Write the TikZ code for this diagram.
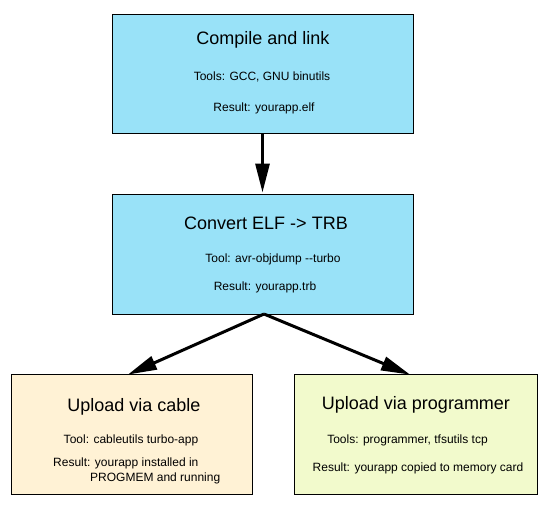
\documentclass[tikz,border=0pt]{standalone}
\usepackage{fontspec}
\setmainfont{Liberation Sans}
\usetikzlibrary{arrows.meta}
\definecolor{boxblue}{RGB}{153,226,248}
\definecolor{boxcream}{RGB}{255,242,213}
\definecolor{boxlime}{RGB}{242,250,204}
\tikzset{
  stepbox/.style={draw=black, line width=1pt, rectangle, inner sep=0pt},
  titletext/.style={font=\fontsize{18}{20}\selectfont, inner sep=0pt},
  smalltext/.style={font=\fontsize{12}{14}\selectfont, inner sep=0pt},
  flow/.style={line width=3pt, -{Triangle[length=29pt,width=14pt]}, shorten >=1pt}
}
\begin{document}
\begin{tikzpicture}[x=1pt,y=-1pt]
\useasboundingbox[fill=white] (0,0) rectangle (544,504);
\node[stepbox, fill=boxblue, minimum width=301pt, minimum height=119pt] (b1) at (262.5,73.5) {};
\node[stepbox, fill=boxblue, minimum width=301pt, minimum height=120pt] (b2) at (262.5,254) {};
\node[stepbox, fill=boxcream, minimum width=241pt, minimum height=120pt] (b3) at (131.5,434) {};
\node[stepbox, fill=boxlime, minimum width=243pt, minimum height=120pt] (b4) at (415.5,434) {};

\node[titletext] (t1) at (263,40) {Compile and link};
\node[smalltext] (t1a) at (262,77) {Tools: GCC, GNU binutils};
\node[smalltext] (t1b) at (264,108) {Result: yourapp.elf};

\node[titletext] (t2) at (266,223) {Convert ELF -> TRB};
\node[smalltext] (t2a) at (273,259) {Tool: avr-objdump -{}-turbo};
\node[smalltext] (t2b) at (265,287) {Result: yourapp.trb};

\node[titletext] (t3) at (134,407) {Upload via cable};
\node[smalltext] (t3a) at (131,440) {Tool: cableutils turbo-app};
\node[smalltext, anchor=west] (t3b) at (53,463) {Result: yourapp installed in};
\node[smalltext, anchor=west] (t3c) at (90,478) {PROGMEM and running};

\node[titletext] (t4) at (416,405) {Upload via programmer};
\node[smalltext] (t4a) at (407.5,440) {Tools: programmer, tfsutils tcp};
\node[smalltext] (t4b) at (418,468) {Result: yourapp copied to memory card};

\coordinate (e3) at (127,375);
\coordinate (e4) at (411,375);
\coordinate (s2) at (264,314);
\draw[flow] (b1.south) -- (b2.north);
\draw[flow] (s2) -- (e3);
\draw[flow] (s2) -- (e4);
\end{tikzpicture}
\end{document}
